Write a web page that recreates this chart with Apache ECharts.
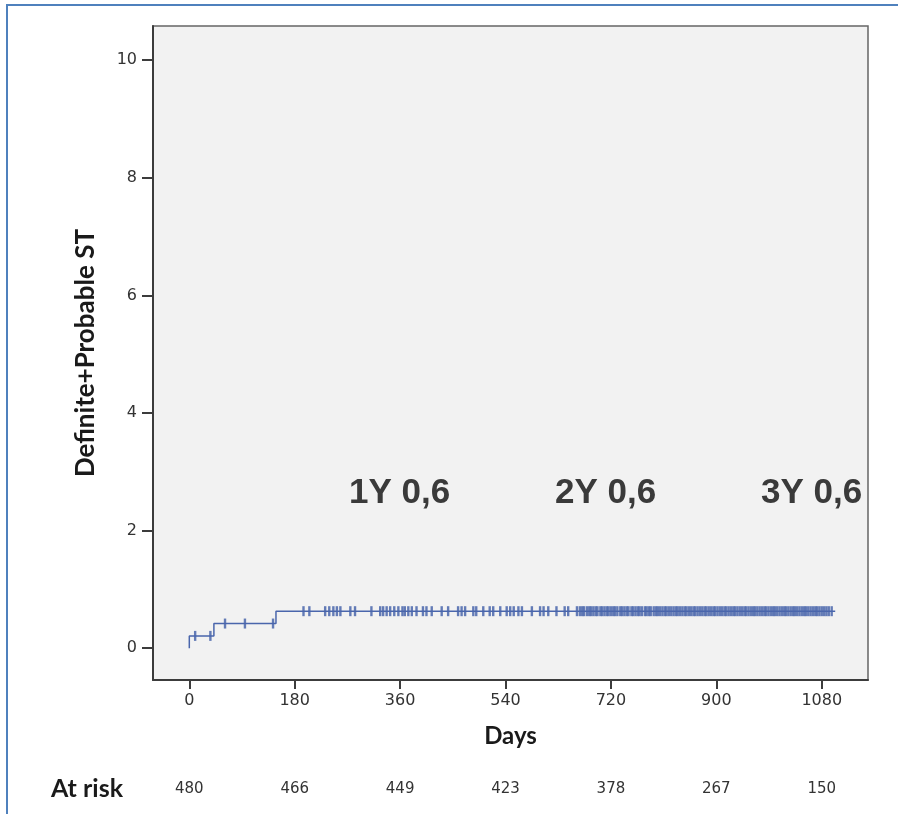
<!DOCTYPE html>
<html>
<head>
<meta charset="utf-8">
<script src="https://cdn.jsdelivr.net/npm/echarts@6/dist/echarts.min.js"></script>
<style>
  html, body { margin: 0; padding: 0; background: #fff; }
  #chart { width: 904px; height: 814px; }
</style>
</head>
<body>
<div id="chart"></div>
<script>
// cumulative incidence, step curve (days, %)
var stepDays = [0, 0, 42, 148, 1103];
var stepValues = [0, 0.21, 0.42, 0.63, 0.63];

// censored patients (days) on each level of the curve
var censorLevel1 = [10, 36];
var censorLevel2 = [61, 95, 143];
var censorLevel3 = [195, 205, 232, 239, 246, 252, 258, 275, 283, 311, 326, 331, 337, 343, 350, 357, 364, 368,
  374, 380, 388, 399, 405, 414, 431, 442, 459, 465, 471, 485, 490, 502, 513, 519, 531, 542, 548, 554, 562,
  568, 585, 599, 605, 613, 627, 641, 647, 662, 667, 671, 674, 679, 683, 686, 690, 694, 697, 702, 705, 709,
  713, 716, 720, 724, 727, 731, 736, 739, 743, 747, 750, 755, 758, 762, 766, 769, 773, 778, 781, 785, 788,
  793, 797, 800, 804, 808, 812, 815, 819, 823, 827, 831, 834, 838, 842, 846, 849, 853, 857, 861, 864, 868,
  872, 876, 880, 883, 887, 891, 895, 898, 902, 906, 910, 914, 917, 921, 925, 929, 932, 936, 940, 944, 948,
  951, 955, 959, 963, 966, 970, 974, 978, 982, 985, 989, 993, 997, 1000, 1004, 1008, 1012, 1016, 1019,
  1023, 1027, 1031, 1034, 1038, 1042, 1046, 1050, 1053, 1057, 1061, 1065, 1069, 1072, 1076, 1080, 1084,
  1088, 1092, 1097];

var xTicks = [0, 180, 360, 540, 720, 900, 1080];
var yTicks = [0, 2, 4, 6, 8, 10];
var atRisk = [480, 466, 449, 423, 378, 267, 150];
var yearLabels = ['1Y 0,6', '2Y 0,6', '3Y 0,6'];

var lineColor = '#4a66ac';

var stepData = [];
for (var i = 0; i < stepDays.length; i++) {
  stepData.push([stepDays[i], stepValues[i]]);
}
var censorData = [];
censorLevel1.forEach(function (d) { censorData.push([d, stepValues[1]]); });
censorLevel2.forEach(function (d) { censorData.push([d, stepValues[2]]); });
censorLevel3.forEach(function (d) { censorData.push([d, stepValues[3]]); });

var chart = echarts.init(document.getElementById('chart'), null, { renderer: 'canvas' });

var tickFont = { color: '#333', fontFamily: 'DejaVu Sans', fontSize: 16 };

var option = {
  backgroundColor: '#fff',
  animation: false,
  grid: {
    left: 153, top: 26, right: 36, bottom: 134,
    show: true,
    backgroundColor: '#f2f2f2',
    borderColor: '#666',
    borderWidth: 1.5
  },
  xAxis: [{
    type: 'value',
    min: -62, max: 1159,
    position: 'bottom',
    name: 'Days',
    nameLocation: 'middle',
    nameGap: 44,
    nameTextStyle: { fontFamily: 'Lato', fontWeight: 'bold', fontSize: 24, color: '#1a1a1a' },
    axisLine: { onZero: false, lineStyle: { color: '#3c3c3c', width: 2 } },
    axisTick: { show: true, customValues: xTicks, length: 9, lineStyle: { color: '#3c3c3c', width: 2 } },
    axisLabel: Object.assign({
      customValues: xTicks,
      margin: 13,
      formatter: function (v) { return String(v); }
    }, tickFont),
    splitLine: { show: false }
  }, {
    // at-risk row under the axis
    type: 'value',
    min: -62, max: 1159,
    position: 'bottom',
    offset: 109,
    name: 'At risk',
    nameLocation: 'start',
    nameGap: 30,
    nameTextStyle: { fontFamily: 'Lato', fontWeight: 'bold', fontSize: 25, color: '#1a1a1a' },
    axisLine: { show: false, onZero: false },
    axisTick: { show: false },
    axisLabel: Object.assign({
      customValues: xTicks,
      margin: 0,
      verticalAlign: 'middle',
      formatter: function (v) { return String(atRisk[xTicks.indexOf(v)]); }
    }, tickFont, { fontSize: 15 }),
    splitLine: { show: false }
  }],
  yAxis: {
    type: 'value',
    min: -0.54, max: 10.58,
    name: 'Definite+Probable ST',
    nameLocation: 'middle',
    nameGap: 54,
    nameTextStyle: { fontFamily: 'Lato', fontWeight: 'bold', fontSize: 26, color: '#1a1a1a' },
    axisLine: { show: true, onZero: false, lineStyle: { color: '#3c3c3c', width: 2 } },
    axisTick: { show: true, customValues: yTicks, length: 11, lineStyle: { color: '#3c3c3c', width: 2 } },
    axisLabel: Object.assign({ customValues: yTicks, margin: 16 }, tickFont),
    splitLine: { show: false }
  },
  series: [{
    type: 'line',
    step: 'end',
    data: stepData,
    showSymbol: false,
    lineStyle: { color: lineColor, width: 1.5 },
    z: 2
  }, {
    type: 'scatter',
    data: censorData,
    symbol: 'rect',
    symbolSize: [2.4, 10],
    itemStyle: { color: lineColor, opacity: 0.85 },
    z: 3
  }],
  graphic: [{
    type: 'polyline',
    shape: { points: [[7, 830], [7, 5], [898, 5]] },
    style: { stroke: '#4f81bd', lineWidth: 2, fill: null },
    z: 10
  }].concat(yearLabels.map(function (t, k) {
    return {
      type: 'text',
      left: 349 + k * 206,
      top: 476,
      style: { text: t, font: 'bold 35px "Liberation Sans"', fill: '#3a3a3a' },
      z: 10
    };
  }))
};

chart.setOption(option);
</script>
</body>
</html>
